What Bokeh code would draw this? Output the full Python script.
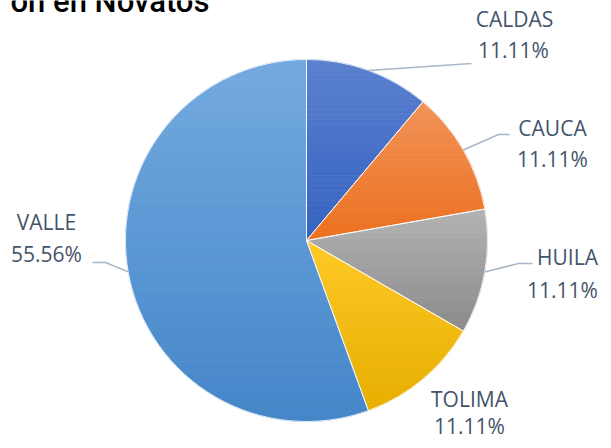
import numpy as np
from bokeh.plotting import figure
from bokeh.models import Range1d, ColumnDataSource
from bokeh.core.properties import value
from bokeh.embed import file_html
from bokeh.resources import INLINE

# ---- data ----
categories = ["CALDAS", "CAUCA", "HUILA", "TOLIMA", "VALLE"]
counts = [1, 1, 1, 1, 5]
pct_labels = ["11.11%", "11.11%", "11.11%", "11.11%", "55.56%"]
colors_top = ["#5B80CF", "#F29458", "#B3B3B3", "#FFC926", "#74AADF"]
colors_bottom = ["#3563C0", "#EC6F1F", "#8A8A8A", "#E6AE00", "#4485C9"]
title_text = "ón en Novatos"

# ---- layout (picture pixel coordinates, y down) ----
W, H = 603, 440


def fy(y):
    return H - y


CX, CY, R = 306, 240, 181
name_pos = [(514, 18), (552, 127), (567, 256), (469, 398), (46, 221)]
pct_pos = [(513, 49), (552, 158), (562, 289), (469, 425), (46, 253)]
leaders = [[(471, 63)], [(498, 134), (509, 134)], [(518, 263), (532, 263)], None,
           [(105, 262), (92, 262)]]

p = figure(width=W, height=H, x_range=Range1d(0, W), y_range=Range1d(0, H),
           output_backend="svg", toolbar_location=None, min_border=0)
p.axis.visible = False
p.grid.visible = False
p.outline_line_color = None
p.background_fill_color = "white"
p.border_fill_color = "white"

vals = np.array(counts, dtype=float)
frac = vals / vals.sum()
ends = np.pi / 2 - 2 * np.pi * np.cumsum(frac)
starts = np.concatenate([[np.pi / 2], ends[:-1]])
mids = (starts + ends) / 2
cxd, cyd = CX, fy(CY)


def hexrgb(h):
    h = h.lstrip("#")
    return np.array([int(h[i:i + 2], 16) for i in (0, 2, 4)], dtype=float)


def mix(c0, c1, t):
    c = hexrgb(c0) * (1 - t) + hexrgb(c1) * t
    return "#%02x%02x%02x" % tuple(int(round(v)) for v in c)


def clip(poly, y0, keep_above):
    out = []
    n = len(poly)
    for i in range(n):
        px, py = poly[i]
        qx, qy = poly[(i + 1) % n]
        pin = py >= y0 if keep_above else py <= y0
        qin = qy >= y0 if keep_above else qy <= y0
        if pin:
            out.append((px, py))
        if pin != qin:
            t = (y0 - py) / (qy - py)
            out.append((px + t * (qx - px), y0))
    return out


# gradient-filled slices, built as horizontal bands of each wedge
bx, by, bc = [], [], []
NB = 36
for i in range(len(categories)):
    ang = np.linspace(starts[i], ends[i], 200)
    poly = [(cxd, cyd)] + [(cxd + R * np.cos(a), cyd + R * np.sin(a)) for a in ang]
    ymin = min(q[1] for q in poly)
    ymax = max(q[1] for q in poly)
    edges = np.linspace(ymax, ymin, NB + 1)
    for k in range(NB):
        hi, lo = edges[k], edges[k + 1]
        part = clip(clip(poly, lo, True), hi, False)
        if len(part) < 3:
            continue
        t = (k + 0.5) / NB
        bx.append([q[0] for q in part])
        by.append([q[1] for q in part])
        bc.append(mix(colors_top[i], colors_bottom[i], t))
p.patches(xs=bx, ys=by, fill_color=bc, line_color=bc, line_width=0.7)

src = ColumnDataSource(dict(cat=categories, start=starts, end=ends,
                            x=[cxd] * len(categories), y=[cyd] * len(categories)))
p.wedge(x="x", y="y", radius=R, start_angle="start", end_angle="end", direction="clock",
        fill_color=None, line_color="white", line_width=1, line_alpha=0.8, source=src)

# leader lines
xs, ys = [], []
for i, pts in enumerate(leaders):
    if not pts:
        continue
    xs.append([cxd + R * np.cos(mids[i])] + [pt[0] for pt in pts])
    ys.append([cyd + R * np.sin(mids[i])] + [fy(pt[1]) for pt in pts])
p.multi_line(xs=xs, ys=ys, line_color="#A9B6C8", line_width=1.5)

font = value("Open Sans")
p.text(x=[q[0] for q in name_pos], y=[fy(q[1]) for q in name_pos], text=categories,
       text_align="center", text_baseline="middle", text_font=font,
       text_font_size="21px", text_color="#44546A")
p.text(x=[q[0] for q in pct_pos], y=[fy(q[1]) for q in pct_pos], text=pct_labels,
       text_align="center", text_baseline="middle", text_font=font,
       text_font_size="21px", text_color="#44546A")

p.text(x=[209], y=[fy(1)], text=[title_text], text_align="right", text_baseline="alphabetic",
       text_font=value("'Roboto Medium', Roboto"), text_font_size="31px",
       text_color="black")

open("out.html", "w").write(file_html(p, INLINE))
